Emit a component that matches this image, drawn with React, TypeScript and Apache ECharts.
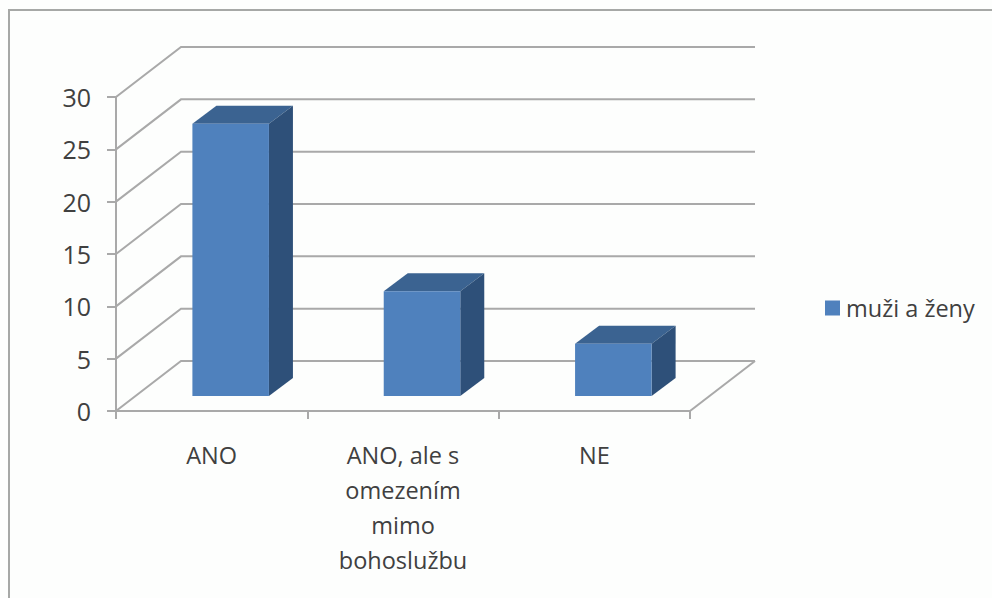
import React, { useEffect, useRef } from "react";
import * as echarts from "echarts";

const categories = ["ANO", "ANO, ale s\nomezením\nmimo\nbohoslužbu", "NE"];
const seriesName = "muži a ženy";
const values = [26, 10, 5];
const yTicks = [0, 5, 10, 15, 20, 25, 30];

const FONT = "'Open Sans', sans-serif";
const TEXT = "#404040";
const LINE = "#a9a9a9";
const WALL_DX = 65;
const WALL_DY = 50;
const BAR_DX = 19;
const BAR_DY = 15;
const SIDE_DX = 24;
const SIDE_DY = 18;

export default function App() {
  const ref = useRef<HTMLDivElement>(null);
  useEffect(() => {
    document.body.style.margin = "0";
    const chart = echarts.init(ref.current!, null, { renderer: "svg" });
    chart.setOption({
      animation: false,
      backgroundColor: "#fdfefd",
      textStyle: { fontFamily: FONT },
      grid: { left: 116, top: 97, width: 574, height: 314 },
      legend: {
        show: true,
        data: [{ name: seriesName, icon: "rect" }],
        left: 820,
        top: 291,
        itemWidth: 15,
        itemHeight: 15,
        itemGap: 8,
        textStyle: { fontFamily: FONT, fontSize: 23.5, color: TEXT, padding: [0, 0, 0, 1] },
      },
      xAxis: {
        type: "category",
        data: categories,
        axisLine: { show: true, lineStyle: { color: LINE, width: 2 } },
        axisTick: { show: true, alignWithLabel: false, length: 8, lineStyle: { color: LINE, width: 2 } },
        axisLabel: { color: TEXT, fontSize: 23.5, fontFamily: FONT, margin: 26, lineHeight: 35, interval: 0 },
      },
      yAxis: {
        type: "value",
        min: 0,
        max: 30,
        interval: 5,
        axisLine: { show: true, lineStyle: { color: LINE, width: 2 } },
        axisTick: { show: true, length: 9, lineStyle: { color: LINE, width: 2 } },
        splitLine: { show: false },
        axisLabel: { color: TEXT, fontSize: 25, fontFamily: FONT, margin: 25 },
      },
      graphic: [
        {
          type: "polyline",
          silent: true,
          shape: { points: [[9, 598], [9, 10], [992, 10]] },
          style: { fill: "none", stroke: "#a6a8a6", lineWidth: 2 },
        },
      ],
      series: [
        {
          type: "custom",
          silent: true,
          z: 1,
          data: yTicks.map((v) => [0, v]),
          encode: { x: 0, y: 1 },
          renderItem: (params: any, api: any) => {
            const cs = params.coordSys;
            const y = api.coord([0, api.value(1)])[1];
            const x0 = cs.x;
            const x1 = cs.x + cs.width;
            const children: any[] = [
              {
                type: "polyline",
                shape: { points: [[x0, y], [x0 + WALL_DX, y - WALL_DY], [x1 + WALL_DX, y - WALL_DY]] },
                style: { fill: "none", stroke: LINE, lineWidth: 2 },
              },
            ];
            if (api.value(1) === 0) {
              children.push({
                type: "line",
                shape: { x1, y1: y, x2: x1 + WALL_DX, y2: y - WALL_DY },
                style: { stroke: LINE, lineWidth: 2 },
              });
            }
            return { type: "group", children };
          },
        },
        {
          type: "custom",
          name: seriesName,
          z: 2,
          itemStyle: { color: "#4f81bd" },
          data: values.map((v, i) => [i, v]),
          encode: { x: 0, y: 1 },
          renderItem: (_params: any, api: any) => {
            const top = api.coord([api.value(0), api.value(1)]);
            const base = api.coord([api.value(0), 0]);
            const w = api.size([1, 0])[0] * 0.4;
            const l = top[0] + BAR_DX - w / 2;
            const r = l + w;
            const t = top[1] - BAR_DY;
            const b = base[1] - BAR_DY;
            return {
              type: "group",
              children: [
                {
                  type: "polygon",
                  shape: { points: [[l, t], [r, t], [r + SIDE_DX, t - SIDE_DY], [l + SIDE_DX, t - SIDE_DY]] },
                  style: { fill: "#3b6391" },
                },
                {
                  type: "polygon",
                  shape: { points: [[r, t], [r + SIDE_DX, t - SIDE_DY], [r + SIDE_DX, b - SIDE_DY], [r, b]] },
                  style: { fill: "#2e5079" },
                },
                {
                  type: "rect",
                  shape: { x: l, y: t, width: w, height: b - t },
                  style: { fill: "#4f81bd" },
                },
              ],
            };
          },
        },
      ],
    });
    return () => chart.dispose();
  }, []);
  return <div ref={ref} style={{ width: 992, height: 598 }} />;
}
